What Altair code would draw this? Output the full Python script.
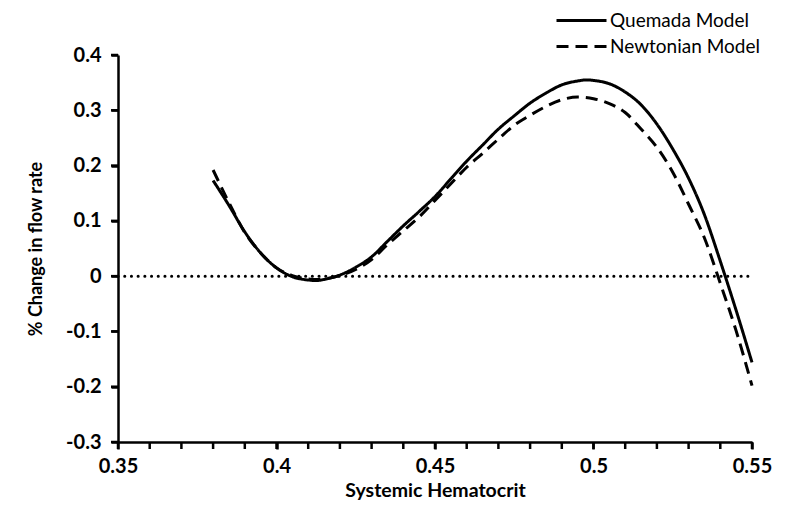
import altair as alt
import pandas as pd

# Quemada model (solid)
q_x = [0.38, 0.385, 0.39, 0.395, 0.40, 0.405, 0.41, 0.4125, 0.415, 0.42, 0.425, 0.43,
       0.435, 0.44, 0.445, 0.45, 0.455, 0.46, 0.465, 0.47, 0.475, 0.48, 0.485, 0.49,
       0.495, 0.498, 0.50, 0.505, 0.51, 0.515, 0.52, 0.525, 0.53, 0.535, 0.54, 0.545, 0.55]
q_y = [0.173, 0.128, 0.080, 0.042, 0.015, -0.001, -0.007, -0.008, -0.006, 0.002, 0.016, 0.035,
       0.063, 0.091, 0.117, 0.144, 0.176, 0.208, 0.237, 0.266, 0.290, 0.313, 0.331, 0.346,
       0.353, 0.355, 0.354, 0.348, 0.333, 0.310, 0.275, 0.230, 0.177, 0.111, 0.027, -0.062, -0.156]

# Newtonian model (dashed)
n_x = [0.38, 0.385, 0.39, 0.395, 0.40, 0.405, 0.41, 0.4125, 0.415, 0.42, 0.425, 0.43,
       0.435, 0.44, 0.445, 0.45, 0.455, 0.46, 0.465, 0.47, 0.475, 0.48, 0.485, 0.49,
       0.495, 0.50, 0.505, 0.51, 0.515, 0.52, 0.525, 0.53, 0.535, 0.54, 0.545, 0.55]
n_y = [0.192, 0.133, 0.079, 0.042, 0.015, 0.001, -0.005, -0.006, -0.005, 0.001, 0.012, 0.030,
       0.057, 0.082, 0.107, 0.137, 0.167, 0.197, 0.222, 0.248, 0.273, 0.291, 0.307, 0.319,
       0.324, 0.321, 0.312, 0.296, 0.266, 0.233, 0.188, 0.130, 0.069, -0.013, -0.099, -0.198]

series = ["Quemada Model", "Newtonian Model"]
x_major = [0.35, 0.40, 0.45, 0.50, 0.55]
x_minor = [0.36, 0.37, 0.38, 0.39, 0.41, 0.42, 0.43, 0.44,
           0.46, 0.47, 0.48, 0.49, 0.51, 0.52, 0.53, 0.54]
y_ticks = [-0.3, -0.2, -0.1, 0.0, 0.1, 0.2, 0.3, 0.4]
zero_line = {"x": [0.35], "x2": [0.55], "y": [0.0]}

X_MIN, X_MAX = 0.35, 0.55
Y_MIN, Y_MAX = -0.3, 0.4
PLOT_W, PLOT_H = 634, 387
TICK_PX = 7
Y_TICK_LEN = (Y_MAX - Y_MIN) * TICK_PX / PLOT_H  # tick length in y data units
X_TICK_LEN = (X_MAX - X_MIN) * TICK_PX / PLOT_W  # tick length in x data units

df = pd.concat([
    pd.DataFrame({"x": q_x, "y": q_y, "model": series[0], "order": range(len(q_x))}),
    pd.DataFrame({"x": n_x, "y": n_y, "model": series[1], "order": range(len(n_x))}),
])

FONT = "Lato"

xscale = alt.Scale(domain=[X_MIN, X_MAX], nice=False, zero=False)
yscale = alt.Scale(domain=[Y_MIN, Y_MAX], nice=False, zero=False)

zero = alt.Chart(pd.DataFrame(zero_line)).mark_rule(
    color="black", strokeWidth=3, strokeDash=[0.1, 6.6], strokeCap="round"
).encode(
    x=alt.X("x:Q", scale=xscale),
    x2="x2:Q",
    y=alt.Y("y:Q", scale=yscale),
)

# tick marks hanging below the x axis (major and minor)
all_x_ticks = x_major + x_minor
xt_df = pd.DataFrame({"x": all_x_ticks, "y": [Y_MIN] * len(all_x_ticks),
                      "y2": [Y_MIN - Y_TICK_LEN] * len(all_x_ticks)})
xt = alt.Chart(xt_df).mark_rule(color="black", strokeWidth=2.5).encode(
    x=alt.X("x:Q", scale=xscale),
    y=alt.Y("y:Q", scale=yscale),
    y2="y2:Q",
)

# tick marks left of the y axis
yt_df = pd.DataFrame({"y": y_ticks, "x": [X_MIN] * len(y_ticks),
                      "x2": [X_MIN - X_TICK_LEN] * len(y_ticks)})
yt = alt.Chart(yt_df).mark_rule(color="black", strokeWidth=2.5).encode(
    x=alt.X("x:Q", scale=xscale),
    x2="x2:Q",
    y=alt.Y("y:Q", scale=yscale),
)

lines = alt.Chart(df).mark_line(
    color="black", strokeWidth=3, interpolate="monotone"
).encode(
    x=alt.X("x:Q", scale=xscale,
            axis=alt.Axis(values=x_major, title="Systemic Hematocrit",
                          labelExpr="toString(round(datum.value*100)/100)",
                          labelOverlap=False, labelFlush=False,
                          labelPadding=7, titlePadding=5, titleFontSize=19.5)),
    y=alt.Y("y:Q", scale=yscale,
            axis=alt.Axis(values=y_ticks, title="% Change in flow rate",
                          labelExpr="toString(round(datum.value*10)/10)",
                          labelOverlap=False, labelFlush=False,
                          labelPadding=10, titlePadding=20)),
    strokeDash=alt.StrokeDash("model:N",
                              scale=alt.Scale(domain=series, range=[[1, 0], [12, 7]]),
                              legend=alt.Legend(title=None, orient="none", legendX=437, legendY=-47,
                                                symbolType="stroke", symbolSize=2500,
                                                symbolStrokeWidth=3, symbolStrokeColor="black",
                                                labelFontSize=19, labelFont=FONT, labelColor="black",
                                                labelOffset=2, rowPadding=1, clipHeight=25)),
    order="order:Q",
)

chart = alt.layer(zero, xt, yt, lines).properties(
    width=PLOT_W, height=PLOT_H,
    background="white",
    autosize=alt.AutoSizeParams(type="none"),
    padding={"left": 110, "top": 47, "right": 29, "bottom": 60},
).configure_view(stroke=None).configure_axis(
    grid=False, ticks=True, domainColor="black", domainWidth=2.5, tickColor="black", tickWidth=2.5,
    tickSize=TICK_PX, labelFont=FONT, labelFontSize=20, labelFontWeight="bold", labelColor="black",
    titleFont=FONT, titleFontSize=18, titleFontWeight="bold", titleColor="black",
)

chart.save("out.html", embed_options={"renderer": "svg", "actions": False})
